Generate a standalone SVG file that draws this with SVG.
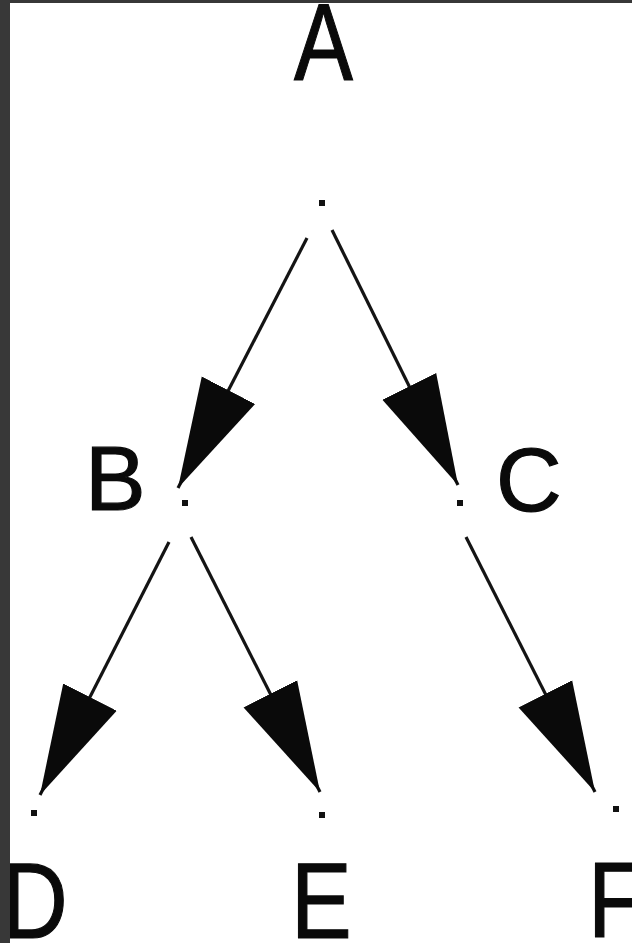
<svg xmlns="http://www.w3.org/2000/svg" width="632" height="943" viewBox="0 0 632 943">
<style>
.lbl{font-family:"Liberation Sans",Arial,sans-serif;fill:#0a0a0a;stroke:#0a0a0a;stroke-width:1.2}
.edge{stroke:#141414;stroke-width:3.2;fill:none}
.dot{fill:#111}
</style>
<defs>
<marker id="ah" markerUnits="userSpaceOnUse" markerWidth="112" markerHeight="62" refX="110" refY="31" orient="auto" viewBox="0 0 112 62">
<path d="M0,1 L110,31 L0,61 z" fill="#0a0a0a"/>
</marker>
</defs>
<rect width="632" height="943" fill="#ffffff"/>
<g id="connectors">
<line class="edge" x1="307" y1="238" x2="178" y2="488" marker-end="url(#ah)"/>
<line class="edge" x1="332" y1="230" x2="458" y2="485" marker-end="url(#ah)"/>
<line class="edge" x1="169" y1="542" x2="40" y2="795" marker-end="url(#ah)"/>
<line class="edge" x1="191" y1="537" x2="320" y2="792" marker-end="url(#ah)"/>
<line class="edge" x1="466" y1="537" x2="595" y2="792" marker-end="url(#ah)"/>
</g>
<g id="A">
<rect class="dot" x="319" y="200" width="6" height="6"/>
<text class="lbl" transform="translate(294,80) scale(0.81,1)" font-size="109">A</text>
</g>
<g id="B">
<rect class="dot" x="182" y="500" width="6" height="6"/>
<text class="lbl" x="85" y="510" font-size="91">B</text>
</g>
<g id="C">
<rect class="dot" x="457" y="500" width="6" height="6"/>
<text class="lbl" x="496" y="511" font-size="91">C</text>
</g>
<g id="D">
<rect class="dot" x="31" y="810" width="6" height="6"/>
<text class="lbl" transform="translate(2,938) scale(0.85,1)" font-size="107">D</text>
</g>
<g id="E">
<rect class="dot" x="319" y="812" width="6" height="6"/>
<text class="lbl" transform="translate(291,938) scale(0.85,1)" font-size="107">E</text>
</g>
<g id="F">
<rect class="dot" x="613" y="806" width="6" height="6"/>
<text class="lbl" transform="translate(588,937) scale(0.85,1)" font-size="107">F</text>
</g>
<rect x="0" y="0" width="10" height="943" fill="#383838"/>
<rect x="0" y="0" width="632" height="3" fill="#383838"/>
</svg>
